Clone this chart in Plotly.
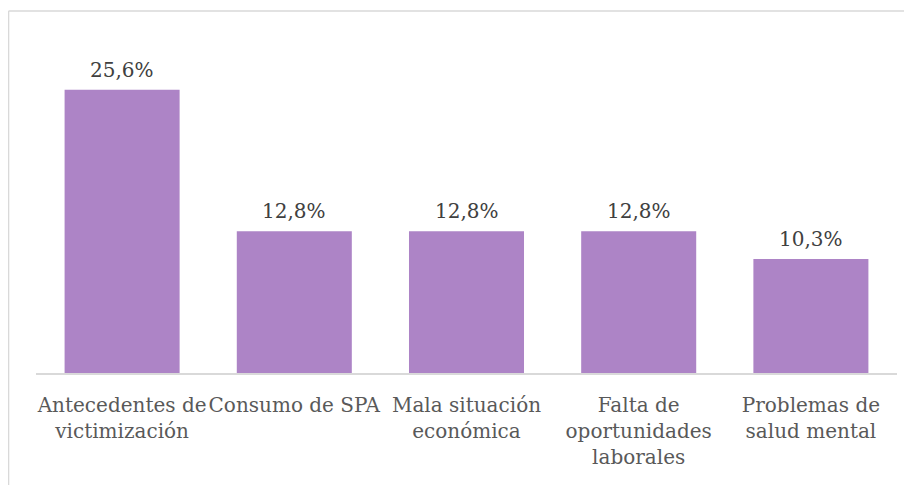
import plotly.graph_objects as go

categories = [
    "Antecedentes de<br>victimización",
    "Consumo de SPA",
    "Mala situación<br>económica",
    "Falta de<br>oportunidades<br>laborales",
    "Problemas de<br>salud mental",
]
values = [25.6, 12.8, 12.8, 12.8, 10.3]
labels = [f"{v:.1f}%".replace(".", ",") for v in values]

FONT = "DejaVu Serif"
BAR_COLOR = "#AD84C6"
GRID = "#D9D9D9"

fig = go.Figure(
    go.Bar(
        x=categories,
        y=values,
        marker=dict(color=BAR_COLOR, line=dict(width=0)),
        hoverinfo="skip",
    )
)

for c, v, t in zip(categories, values, labels):
    fig.add_annotation(
        x=c, y=v, text=t, showarrow=False, yanchor="bottom", yshift=6,
        font=dict(family=FONT, size=20, color="#404040"),
    )

# chart frame (top and left edges visible in the crop)
fig.add_shape(type="line", xref="paper", yref="paper", x0=-0.0319, x1=1.2, y0=1.0904, y1=1.0904,
              line=dict(color=GRID, width=1.5))
fig.add_shape(type="line", xref="paper", yref="paper", x0=-0.0319, x1=-0.0319, y0=1.0904, y1=-0.5,
              line=dict(color=GRID, width=1.5))

fig.update_layout(
    width=912,
    height=485,
    margin=dict(l=28, r=23, t=33, b=120),
    paper_bgcolor="white",
    plot_bgcolor="white",
    bargap=0.332,
    showlegend=False,
    font=dict(family=FONT, size=20, color="#595959"),
)
fig.update_xaxes(
    showline=True,
    linecolor=GRID,
    linewidth=1.5,
    ticks="",
    tickangle=0,
    ticklabelstandoff=13,
    tickfont=dict(family=FONT, size=20, color="#595959"),
)
fig.update_yaxes(
    range=[0, 30],
    visible=False,
    showgrid=False,
    zeroline=False,
)

fig.write_html("out.html")
